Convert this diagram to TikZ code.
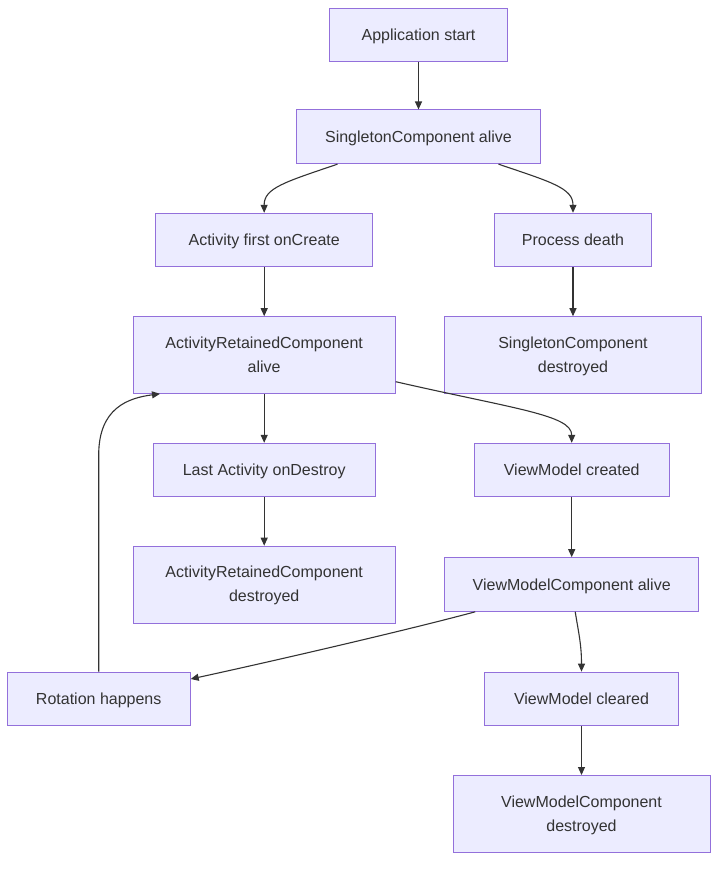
\documentclass[tikz,border=0pt]{standalone}
\usepackage{fontspec}
\setmainfont{Liberation Sans}
\usetikzlibrary{arrows.meta}
\definecolor{boxfill}{HTML}{ECECFF}
\definecolor{boxline}{HTML}{9370DB}
\definecolor{ink}{HTML}{333333}
\begin{document}
\begin{tikzpicture}[x=1pt,y=-1pt,
  box/.style={draw=boxline, fill=boxfill, line width=1pt, inner sep=0pt, align=center, text=ink, font=\fontsize{16}{24}\selectfont, text height=12pt, text depth=1pt},
  twoline/.style={text height=36pt, text depth=2pt},
  link/.style={draw=ink, line width=1.1pt, -{Triangle[length=8pt,width=7pt]}}]
\useasboundingbox (0,0) rectangle (726,870);
\node[box, minimum width=178pt, minimum height=53pt] (app) at (418.5,34.5) {Application start};
\node[box, minimum width=244pt, minimum height=53.7pt] (sa) at (418.5,136.8) {SingletonComponent alive};
\node[box, minimum width=217pt, minimum height=53.4pt] (act) at (264.2,240) {Activity first onCreate};
\node[box, minimum width=157pt, minimum height=53.4pt] (pd) at (573,240) {Process death};
\node[box, twoline, minimum width=262pt, minimum height=76.6pt] (arc) at (264.2,355) {ActivityRetainedComponent\\alive};
\node[box, twoline, minimum width=257pt, minimum height=76.6pt] (sd) at (573,355) {SingletonComponent\\destroyed};
\node[box, minimum width=222pt, minimum height=53pt] (last) at (264.2,469.8) {Last Activity onDestroy};
\node[box, minimum width=195pt, minimum height=53pt] (vmc) at (571.7,469.8) {ViewModel created};
\node[box, twoline, minimum width=262pt, minimum height=77pt] (arcd) at (264.2,584.7) {ActivityRetainedComponent\\destroyed};
\node[box, minimum width=254pt, minimum height=53.6pt] (vmca) at (571.7,584.5) {ViewModelComponent alive};
\node[box, minimum width=183pt, minimum height=53.7pt] (rot) at (98.7,699) {Rotation happens};
\node[box, minimum width=194pt, minimum height=53.7pt] (vmcl) at (581.5,699) {ViewModel cleared};
\node[box, twoline, minimum width=257pt, minimum height=77pt] (vmcd) at (581.5,814) {ViewModelComponent\\destroyed};

\draw[link] (app) -- (sa);
\draw[link] ([xshift=-81pt]sa.south) .. controls (285,182) and (264,188) .. (act.north);
\draw[link] ([xshift=80pt]sa.south) .. controls (551,182) and (573,188) .. (pd.north);
\draw[link] (act) -- (arc);
\draw[link] (pd) -- (sd);
\draw[link] (arc) -- (last);
\draw[link] ([yshift=-26.7pt]arc.east) .. controls (515,409) and (571.7,415) .. (vmc.north);
\draw[link] (last) -- (arcd);
\draw[link] (vmc) -- (vmca);
\draw[link] ([xshift=-96.5pt]vmca.south) .. controls (400,632) and (260,664) .. ([yshift=20pt]rot.east);
\draw[link] ([xshift=3.5pt]vmca.south) .. controls (579,635) and (581.5,645) .. (vmcl.north);
\draw[link] (vmcl) -- (vmcd);
\draw[link] (rot.north) -- (98.7,455) .. controls (98.7,408) and (128,398) .. ([xshift=-104.2pt]arc.south);
\end{tikzpicture}
\end{document}
